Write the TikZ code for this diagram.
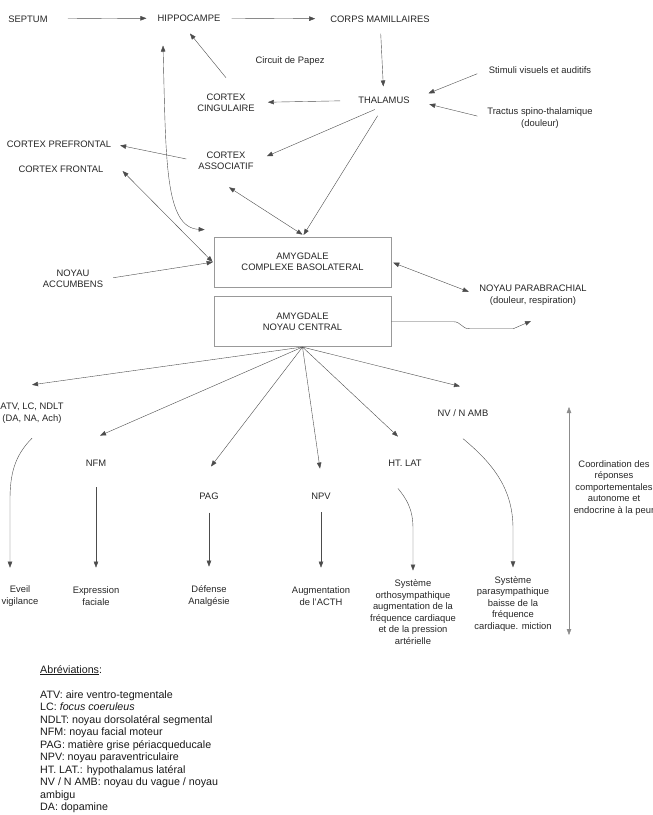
\documentclass[tikz,border=0pt]{standalone}
\usepackage{fontspec}
\setmainfont{Liberation Sans}
\usetikzlibrary{arrows.meta,positioning}
\newcommand{\diagfont}{\fontsize{9.4}{11.5}\selectfont}
\newcommand{\abbrfont}{\fontsize{10.7}{12.5}\selectfont}

\begin{document}
\begin{tikzpicture}[
    x=1pt, y=-1pt,
    lbl/.style={font=\diagfont, align=center, inner sep=2pt, text=black!85},
    box/.style={draw=gray!80, line width=0.7pt, minimum width=177pt,
                minimum height=50pt, font=\diagfont, align=center, text=black!85},
    arr/.style={-{Triangle[length=6pt,width=4.5pt]}, draw=black!70, line width=0.4pt},
    both/.style={{Triangle[length=6pt,width=4.5pt]}-{Triangle[length=6pt,width=4.5pt]},
                 draw=black!70, line width=0.4pt},
    abbr/.style={font=\abbrfont, align=left, inner sep=0pt, text=black!90, anchor=north west}
]
    \useasboundingbox (0,0) rectangle (653,815);

    % circuit de Papez
    \node[lbl] (septum) at (28,19) {SEPTUM};
    \node[lbl] (hippo) at (189,18) {HIPPOCAMPE};
    \node[lbl] (corps) at (380,19) {CORPS MAMILLAIRES};
    \node[lbl] (papez) at (290,61) {Circuit de Papez};
    \node[lbl] (thal) at (384,100) {THALAMUS};
    \node[lbl] (cing) at (226,103) {CORTEX\\CINGULAIRE};
    \node[lbl] (stim) at (540,70) {Stimuli visuels et auditifs};
    \node[lbl] (tract) at (540,118) {Tractus spino-thalamique\\(douleur)};

    \node[lbl] (prefr) at (59,144) {CORTEX PREFRONTAL};
    \node[lbl] (front) at (61,169) {CORTEX FRONTAL};
    \node[lbl] (assoc) at (226,161) {CORTEX\\ASSOCIATIF};

    % amygdale
    \node[box] (bla) at (302.5,262) {AMYGDALE\\COMPLEXE BASOLATERAL};
    \node[box, below=9pt of bla] (cea) {AMYGDALE\\NOYAU CENTRAL};
    \node[lbl] (accumb) at (73,279) {NOYAU\\ACCUMBENS};
    \node[lbl] (parab) at (533,295) {NOYAU PARABRACHIAL\\(douleur, respiration)};

    % efferences du noyau central
    \node[lbl] (atv) at (32,413) {ATV, LC, NDLT\\(DA, NA, Ach)};
    \node[lbl] (nvamb) at (463,413) {NV / N AMB};
    \node[lbl] (nfm) at (96,463) {NFM};
    \node[lbl] (htlat) at (405,463) {HT. LAT};
    \node[lbl] (pag) at (209,496) {PAG};
    \node[lbl] (npv) at (321,496) {NPV};
    \node[lbl] (coord) at (614,488) {Coordination des\\r\'eponses\\comportementales\\autonome et\\endocrine \`a la peur};

    \node[lbl] (eveil) at (20,596) {Eveil\\vigilance};
    \node[lbl] (expr) at (96,596) {Expression\\faciale};
    \node[lbl] (def) at (209,596) {D\'efense\\Analg\'esie};
    \node[lbl] (acth) at (321,596) {Augmentation\\de l'ACTH};
    \node[lbl] (ortho) at (413,612) {Syst\`eme\\orthosympathique\\augmentation de la\\fr\'equence cardiaque\\et de la pression\\art\'erielle};
    \node[lbl] (para) at (513,604) {Syst\`eme\\parasympathique\\baisse de la\\fr\'equence\\cardiaque. miction};

    \coordinate (wend) at (531,321);
    \coordinate (ctop) at (569,407);
    \coordinate (cbot) at (569,635);

    \node[abbr] (abbrev) at (40,665) {\underline{Abr\'eviations}:\\[12.5pt]
        ATV: aire ventro-tegmentale\\
        LC: \textit{focus coeruleus}\\
        NDLT: noyau dorsolat\'eral segmental\\
        NFM: noyau facial moteur\\
        PAG: mati\`ere grise p\'eriacqueducale\\
        NPV: noyau paraventriculaire\\
        HT. LAT.: hypothalamus lat\'eral\\
        NV / N AMB: noyau du vague / noyau\\
        ambigu\\
        DA: dopamine};

    % connexions
    \draw[arr, shorten <=18pt, shorten >=9pt] (septum) -- (hippo);
    \draw[arr, shorten <=9pt, shorten >=13pt] (hippo) -- (corps);
    \draw[arr, shorten <=9pt, shorten >=8pt] (corps) -- (thal);
    \draw[arr, shorten <=16pt, shorten >=11pt] (thal) -- (cing);
    \draw[arr] ([yshift=14pt]cing.north) -- ([xshift=1pt,yshift=-10pt]hippo.south);
    \draw[arr, shorten <=10pt, shorten >=18pt] (stim.west) -- (thal.east);
    \draw[arr, shorten <=8pt, shorten >=18pt] (tract.west) -- (thal.east);
    \draw[arr, shorten <=10pt, shorten >=12pt] (thal.south) -- (assoc.east);
    \draw[arr, shorten <=12pt, shorten >=2pt] (thal.south) -- (bla.north);
    \draw[arr, shorten <=10pt, shorten >=7pt] (assoc.west) -- (prefr.east);
    \draw[both] ([xshift=17pt,yshift=-2pt]front.east) -- ([xshift=-1pt]bla.west);
    \draw[both] ([xshift=3pt,yshift=-15pt]assoc.south) -- ([yshift=2pt]bla.north);
    \draw[both] ([xshift=-26pt,yshift=-22pt]hippo.south) .. controls +(3,115) and +(-40,-2) .. ([xshift=-9pt,yshift=7pt]bla.north west);
    \draw[arr, shorten <=8pt, shorten >=1pt] (accumb.east) -- (bla.west);
    \draw[both, shorten <=2pt, shorten >=9pt] (bla.east) -- (parab.west);
    \draw[arr] (cea.east) -- ++(62,0) .. controls +(8,0) and +(-8,0) .. ++(16,7) -- ++(44,0) -- (wend);

    \draw[arr] (cea.south) -- ([yshift=16pt]atv.north);
    \draw[arr] (cea.south) -- ([xshift=4pt,yshift=22pt]nfm.north);
    \draw[arr] (cea.south) -- ([xshift=2pt,yshift=24pt]pag.north);
    \draw[arr] (cea.south) -- ([xshift=-1pt,yshift=22pt]npv.north);
    \draw[arr] (cea.south) -- ([xshift=-7pt,yshift=21pt]htlat.north);
    \draw[arr] (cea.south) -- ([xshift=-3pt,yshift=21pt]nvamb.north);

    \draw[arr] ([yshift=-13pt]atv.south) .. controls +(-18,18) and +(0,-25) .. ++(-22,62) -- ([xshift=-10pt,yshift=16pt]eveil.north);
    \draw[arr, shorten <=19pt, shorten >=17pt] (nfm) -- (expr);
    \draw[arr, shorten <=11pt, shorten >=17pt] (pag) -- (def);
    \draw[arr, shorten <=11pt, shorten >=17pt] (npv) -- (acth);
    \draw[arr] ([xshift=-7pt,yshift=-20pt]htlat.south) .. controls +(8,10) and +(0,-20) .. ++(15,40) -- ([yshift=7pt]ortho.north);
    \draw[arr] ([yshift=-20pt]nvamb.south) .. controls +(30,25) and +(0,-40) .. ++(50,90) -- ([yshift=7pt]para.north);
    \draw[both, draw=black!45] (ctop) -- (cbot);
\end{tikzpicture}
\end{document}
